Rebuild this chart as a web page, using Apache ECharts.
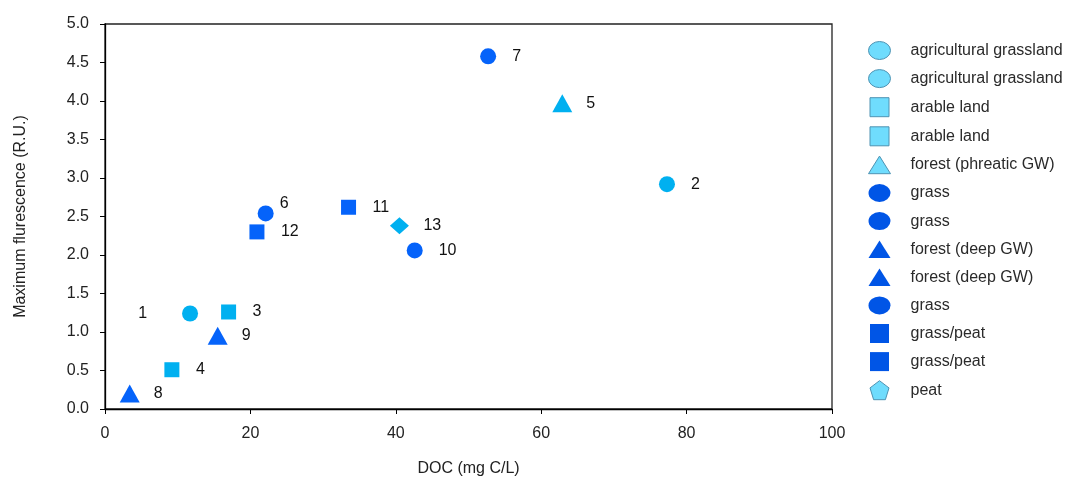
<!DOCTYPE html>
<html>
<head>
<meta charset="utf-8">
<script src="https://cdn.jsdelivr.net/npm/echarts@6/dist/echarts.min.js"></script>
<style>
html,body{margin:0;padding:0;background:#fff;}
#chart{width:1066px;height:479px;}
</style>
</head>
<body>
<div id="chart"></div>
<script>
// ---- data ----
const pointIds = ['1','2','3','4','5','6','7','8','9','10','11','12','13'];
const docValues = [11.7, 77.3, 17.0, 9.2, 62.9, 22.1, 52.7, 3.4, 15.5, 42.6, 33.5, 20.9, 40.5];
const fluorValues = [1.24, 2.92, 1.26, 0.51, 3.97, 2.54, 4.58, 0.20, 0.95, 2.06, 2.62, 2.30, 2.38];
const legendLabels = ['agricultural grassland','agricultural grassland','arable land','arable land',
  'forest (phreatic GW)','grass','grass','forest (deep GW)','forest (deep GW)','grass',
  'grass/peat','grass/peat','peat'];
const xTicks = [0, 20, 40, 60, 80, 100];
const yTicks = [0, 0.5, 1, 1.5, 2, 2.5, 3, 3.5, 4, 4.5, 5];

// ---- styles ----
const LIGHT = '#00b0f0', DARK = '#0563fa';
const LEG_LIGHT = '#6fdcfd', LEG_DARK = '#0055e6', LEG_BORDER = '#4e93b3';
const kinds = ['lc','lc','ls','ls','lt','dc','dc','dt','dt','dc','ds','ds','ld'];
const pentagon = 'path://M50,0 L100,38 L81,100 L19,100 L0,38 Z';
const squarePath = 'path://M0,0 L100,0 L100,100 L0,100 Z';
const triPath = 'path://M50,0 L100,80 L0,80 Z';
const ellipsePath = 'path://M0,45 A55,45 0 1 0 110,45 A55,45 0 1 0 0,45 Z';

function symInfo(k){
  const light = k[0]==='l';
  const shape = k[1];
  let symbol, size, legIcon;
  if(shape==='c'){symbol='circle'; size=16; legIcon=ellipsePath;}
  else if(shape==='s'){symbol='rect'; size=15; legIcon=squarePath;}
  else if(shape==='t'){symbol='triangle'; size=[20,18]; legIcon=triPath;}
  else {symbol='diamond'; size=[19,17]; legIcon=pentagon;}
  return {light, symbol, size, legIcon};
}

const seriesNames = legendLabels.map((n,i)=> n + '\u200b'.repeat(i));
const series = pointIds.map((id,i)=>{
  const s = symInfo(kinds[i]);
  const w = Array.isArray(s.size)? s.size[0] : s.size;
  let label = {show:true, formatter:id, position:'right', distance: 24 - w/2,
    color:'#111', fontSize:16, fontFamily:'Liberation Sans'};
  if(id==='1'){ label.position='left'; label.distance = 35; }
  if(id==='6'){ label.distance = 6; label.offset=[0,-10]; }
  return {
    name: seriesNames[i], type:'scatter', symbol:s.symbol, symbolSize:s.size,
    itemStyle:{color: s.light?LIGHT:DARK, opacity:1},
    label, data:[[docValues[i], fluorValues[i]]], z:3
  };
});

const legendData = seriesNames.map((n,i)=>{
  const s = symInfo(kinds[i]);
  return {name:n, icon:s.legIcon,
    itemStyle: s.light? {color:LEG_LIGHT, borderColor:LEG_BORDER, borderWidth:1}
                      : {color:LEG_DARK, borderWidth:0}};
});

const chart = echarts.init(document.getElementById('chart'), null, {renderer:'canvas'});
chart.setOption({
  animation:false,
  backgroundColor:'#fff',
  textStyle:{fontFamily:'Liberation Sans'},
  grid:{left:105, top:24, right:234, bottom:70, outerBoundsMode:'none', containLabel:false,
    show:true, borderColor:'#222', borderWidth:1.3, backgroundColor:'transparent'},
  legend:{
    orient:'vertical', left:868, top:41, padding:0, itemWidth:22, itemHeight:19, itemGap:9.1,
    symbolKeepAspect:true,
    data: legendData,
    formatter: n => n.replace(/\u200b/g,''),
    textStyle:{fontSize:16, lineHeight:19, color:'#2a2a2a', fontFamily:'Liberation Sans', padding:[0,0,0,15]},
    selectedMode:false
  },
  xAxis:{
    type:'value', min:xTicks[0], max:xTicks[xTicks.length-1], interval:20,
    name:'DOC (mg C/L)', nameLocation:'middle', nameGap:52,
    nameTextStyle:{fontSize:16, color:'#222'},
    axisLine:{show:true, lineStyle:{color:'#000', width:1.3}},
    axisTick:{show:true, inside:false, length:5, lineStyle:{color:'#000'}},
    axisLabel:{fontSize:16, color:'#222', margin:17},
    splitLine:{show:false}
  },
  yAxis:{
    type:'value', min:yTicks[0], max:yTicks[yTicks.length-1], interval:0.5,
    name:'Maximum flurescence (R.U.)', nameLocation:'middle', nameGap:76,
    nameTextStyle:{fontSize:16, color:'#222'},
    axisLine:{show:true, lineStyle:{color:'#000', width:1.3}},
    axisTick:{show:true, inside:false, length:5, lineStyle:{color:'#000'}},
    axisLabel:{fontSize:16, color:'#222', margin:16, formatter:v=>v.toFixed(1)},
    splitLine:{show:false}
  },
  series
});
</script>
</body>
</html>
